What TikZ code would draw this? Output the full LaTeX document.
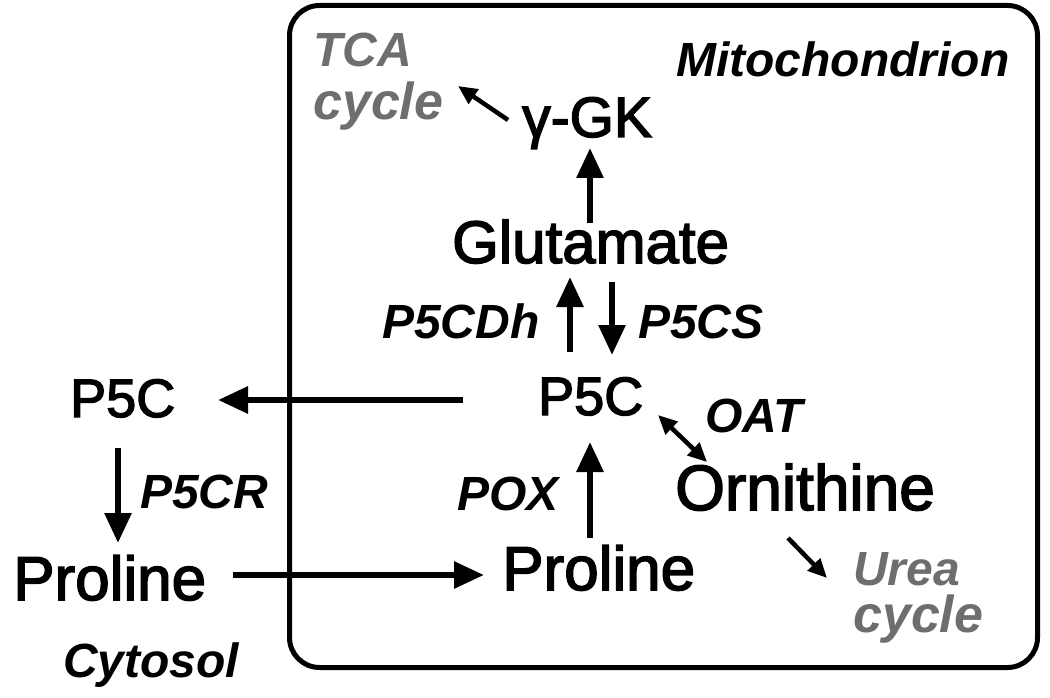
\documentclass[tikz,border=0pt]{standalone}
\usepackage{fontspec}
\setmainfont{Liberation Sans}
\newfontfamily\medfont[FakeBold=2.5]{Liberation Sans}
\usetikzlibrary{arrows.meta,calc}
\definecolor{cyclegray}{RGB}{110,110,110}
\begin{document}
\begin{tikzpicture}[x=1pt,y=-1pt,
  lbl/.style={anchor=base west,inner sep=0pt,font=\medfont\fontsize{#1}{#1}\selectfont},
  lbl/.default=58,
  enz/.style={anchor=base west,inner sep=0pt,font=\fontsize{48}{48}\selectfont\bfseries\itshape},
  cyc/.style={anchor=base west,inner sep=0pt,align=left,text=cyclegray,font=\fontsize{48}{#1}\selectfont\bfseries\itshape},
  big/.style={line width=6pt,-{Triangle[length=30pt,width=26pt]}},
  small/.style={line width=4.5pt,-{Triangle[length=19pt,width=17pt]}},
  smallboth/.style={line width=4.5pt,{Triangle[length=19pt,width=17pt]}-{Triangle[length=19pt,width=17pt]}},
  box/.style={draw,line width=5pt,rounded corners=30pt}]
\useasboundingbox (0,0) rectangle (1050,698);
\node[box,minimum width=748pt,minimum height=662pt,anchor=north west] (mito) at (287,3) {};
% labels
\node[enz] (mitolbl) at (676,77) {Mitochondrion};
\node[enz] (cyto) at (63,677) {Cytosol};
\node[cyc=53] (tca) at (313,120) {TCA\\{\fontsize{52}{53}\selectfont cycle}};
\node[cyc=47] (urea) at (853,632) {Urea\\{\fontsize{52}{47}\selectfont cycle}};
\node[lbl=57] (gk) at (522,137) {γ-GK};
\node[lbl=60] (glu) at (452,263) {Glutamate};
\node[lbl=54] (p5cm) at (538,415) {P5C};
\node[lbl=54] (p5cc) at (70,417) {P5C};
\node[lbl=64] (orn) at (675,510) {Ornithine};
\node[lbl=62] (prom) at (502,590) {Proline};
\node[lbl=62] (proc) at (13,600) {Proline};
\node[enz] (p5cdh) at (382,338) {P5CDh};
\node[enz] (p5cs) at (638,338) {P5CS};
\node[enz] (oat) at (705,432) {OAT};
\node[enz] (pox) at (457,510) {POX};
\node[enz] (p5cr) at (140,508) {P5CR};
% connectors
\draw[small] ($(gk.base west)+(-14,-17)$) -- ($(tca.base west)+(145,-34)$);
\draw[big] ($(glu.base west)+(138,-40)$) -- ($(gk.base west)+(68,11)$);
\draw[big] ($(p5cm.base west)+(32,-63)$) -- ($(glu.base west)+(118,14)$);
\draw[big] ($(glu.base west)+(160,19)$) -- ($(p5cm.base west)+(74,-60)$);
\draw[big] ($(p5cm.base west)+(-75,-15)$) -- ($(p5cc.base west)+(148,-17)$);
\draw[big] ($(p5cc.base west)+(48,31)$) -- ($(proc.base west)+(105,-57)$);
\draw[big] ($(proc.base west)+(220,-25)$) -- ($(prom.base west)+(-18,-15)$);
\draw[big] ($(prom.base west)+(88,-52)$) -- ($(p5cm.base west)+(52,27)$);
\draw[smallboth] ($(p5cm.base west)+(120,0)$) -- ($(orn.base west)+(32,-48)$);
\draw[small] ($(orn.base west)+(113,28)$) -- ($(urea.base west)+(-26,-54)$);
\end{tikzpicture}
\end{document}
